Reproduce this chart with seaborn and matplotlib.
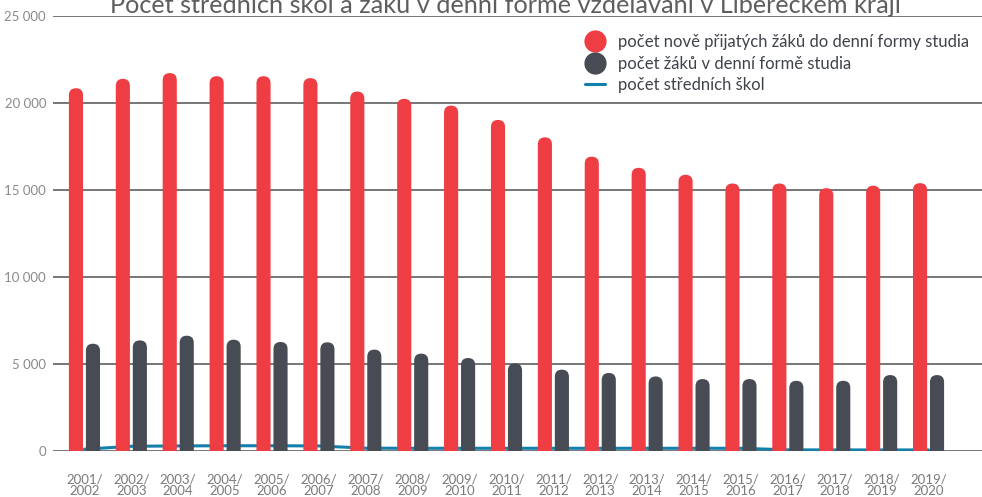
import numpy as np
import pandas as pd
import matplotlib.pyplot as plt
import seaborn as sns
from matplotlib.patches import FancyBboxPatch
from matplotlib.lines import Line2D

### Dados ###

anos = ['2001/\n2002', '2002/\n2003', '2003/\n2004', '2004/\n2005', '2005/\n2006',
        '2006/\n2007', '2007/\n2008', '2008/\n2009', '2009/\n2010', '2010/\n2011',
        '2011/\n2012', '2012/\n2013', '2013/\n2014', '2014/\n2015', '2015/\n2016',
        '2016/\n2017', '2017/\n2018', '2018/\n2019', '2019/\n2020']

prijati = [20830, 21370, 21700, 21520, 21520, 21410, 20640, 20220, 19830, 19010,
           18010, 16900, 16260, 15860, 15360, 15360, 15090, 15230, 15380]

zaci = [6160, 6350, 6620, 6390, 6260, 6240, 5820, 5590, 5340, 5030,
        4670, 4480, 4280, 4130, 4130, 4030, 4030, 4360, 4360]

skoly = [100, 270, 290, 300, 300, 290, 160, 155, 155, 155,
         155, 155, 155, 155, 155, 65, 60, 60, 60]

lbl_prijati = 'počet nově přijatých žáků do denní formy studia'
lbl_zaci = 'počet žáků v denní formě studia'
lbl_skoly = 'počet středních škol'

cor_vermelho = '#ee3d43'
cor_cinza = '#474b54'
cor_azul = '#137fab'

df = pd.DataFrame({'Rok': anos * 2,
                   'Hodnota': prijati + zaci,
                   'Serie': [lbl_prijati] * len(anos) + [lbl_zaci] * len(anos)})

### Gráfico ###

sns.set_theme(style='white')
plt.rcParams['font.family'] = ['Lato', 'DejaVu Sans']

fig = plt.figure(figsize=(9.82, 4.97), dpi=100)
ax = fig.add_axes([0.054, 0.0926, 0.946, 0.876])

sns.barplot(data=df, x='Rok', y='Hodnota', hue='Serie',
            palette=[cor_vermelho, cor_cinza], width=0.725, gap=0.17,
            saturation=1, legend=False, ax=ax)
sns.lineplot(x=np.arange(len(anos)), y=skoly, color=cor_azul, lw=2.2, ax=ax)

ax.set_xlim(-0.67, 19.14)
ax.set_ylim(0, 25000)

# topo arredondado das barras
fig.canvas.draw()
inv = ax.transData.inverted()
px_x = inv.transform([(1, 0)])[0][0] - inv.transform([(0, 0)])[0][0]
px_y = inv.transform([(0, 1)])[0][1] - inv.transform([(0, 0)])[0][1]
for p in list(ax.patches):
    x, w, h = p.get_x(), p.get_width(), p.get_height()
    cor = p.get_facecolor()
    r = w / 2
    nova = FancyBboxPatch((x, -3000), w, h + 3000,
                          boxstyle=f'round,pad=0,rounding_size={r}',
                          mutation_aspect=px_y / px_x,
                          facecolor=cor, edgecolor='none', zorder=2)
    p.remove()
    ax.add_patch(nova)

ax.set_yticks([0, 5000, 10000, 15000, 20000, 25000])
ax.set_yticklabels(['0', '5 000', '10 000', '15 000', '20 000', '25 000'])
ax.yaxis.grid(True, color='#6b6b6b', lw=1.3, zorder=0)
ax.set_axisbelow(True)
ax.tick_params(axis='y', length=0, pad=5, labelsize=9.5, labelcolor='#8a8a8a')
ax.tick_params(axis='x', length=0, pad=16, labelsize=9.5, labelcolor='#7a7a7a')
for t in ax.get_xticklabels():
    t.set_linespacing(0.95)
ax.set_xlabel('')
ax.set_ylabel('')
sns.despine(ax=ax, left=True, bottom=True)

fig.text(0.515, 0.988, 'Počet středních škol a žáků v denní formě vzdělávání v Libereckém kraji',
         ha='center', va='center', fontsize=18.2, color='#5e5e5e')

handles = [Line2D([], [], marker='o', ls='none', markersize=15, color=cor_vermelho),
           Line2D([], [], marker='o', ls='none', markersize=15, color=cor_cinza),
           Line2D([], [], color=cor_azul, lw=2.2)]
fig.legend(handles, [lbl_prijati, lbl_zaci, lbl_skoly], loc='upper left',
           bbox_to_anchor=(0.589, 0.945), frameon=False, fontsize=12.0,
           labelcolor='#3f434a', handlelength=1.2, handletextpad=0.8,
           labelspacing=0.33, borderaxespad=0)

plt.savefig('out.png', dpi=100)
